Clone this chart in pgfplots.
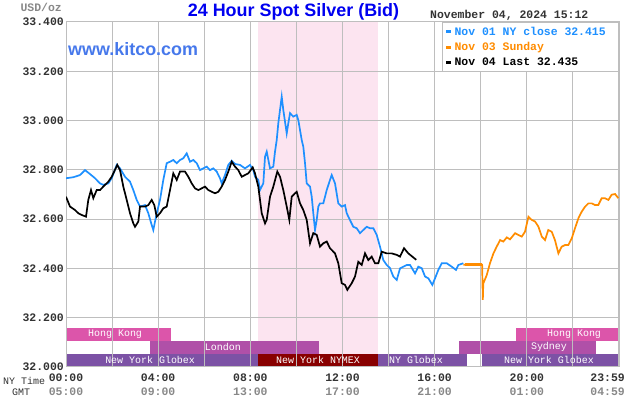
\documentclass[border=0pt]{standalone}
\usepackage{pgfplots}
\pgfplotsset{compat=1.18}
\usepackage{fontspec}
\setmainfont{Liberation Sans}
\newfontfamily\mono{Liberation Mono}
\definecolor{kblue}{RGB}{30,144,255}
\definecolor{korange}{RGB}{255,140,0}
\definecolor{kpink}{RGB}{252,228,240}
\definecolor{hk}{RGB}{220,85,170}
\definecolor{lon}{RGB}{176,80,168}
\definecolor{glx}{RGB}{124,82,165}
\definecolor{nymex}{RGB}{136,0,0}
\definecolor{gridc}{RGB}{190,190,190}
\definecolor{txt}{RGB}{51,51,51}
\definecolor{gmt}{RGB}{136,136,136}
\definecolor{titleblue}{RGB}{0,0,240}
\definecolor{kitco}{RGB}{70,120,235}
\newcommand\sesfont{\mono\fontsize{10}{12}\selectfont}
\newcommand\tickfont{\mono\bfseries\fontsize{11.5}{14.6}\selectfont}
\newcommand\sess[5]{\addplot[on layer=axis background, fill=#5, draw=none, forget plot] coordinates {(#1,#3) (#1,#4) (#2,#4) (#2,#3)} --cycle;}
\begin{document}
\begin{tikzpicture}
\begin{axis}[
  set layers,
  at={(66bp,33bp)}, anchor=south west,
  scale only axis, width=553bp, height=345bp,
  xmin=0, xmax=24, ymin=32, ymax=33.4,
  xtick={0,4,8,12,16,20},
  xticklabels={{00:00\\\textcolor{gmt}{05:00}},{04:00\\\textcolor{gmt}{09:00}},{08:00\\\textcolor{gmt}{13:00}},{12:00\\\textcolor{gmt}{17:00}},{16:00\\\textcolor{gmt}{21:00}},{20:00\\\textcolor{gmt}{01:00}}},
  extra x ticks={23.983},
  extra x tick labels={{23:59\\\textcolor{gmt}{04:59}}},
  extra x tick style={xticklabel style={xshift=-11bp}},
  minor xtick={2,6,10,14,18,22},
  ytick={32,32.2,32.4,32.6,32.8,33,33.2,33.4},
  yticklabels={32.000,32.200,32.400,32.600,32.800,33.000,33.200,33.400},
  grid=both,
  major grid style={gridc, line width=1bp},
  minor grid style={gridc, line width=1bp},
  axis line style={gridc, line width=1bp},
  major tick length=0pt, minor tick length=0pt,
  xticklabel style={font=\tickfont, text=txt, align=center, inner sep=2bp, yshift=-4.5bp},
  yticklabel style={font=\tickfont, text=txt, inner sep=2bp},
  legend style={at={(1,1)}, anchor=north east, draw=gridc, line width=1bp, fill=white,
    font=\tickfont, inner xsep=2bp, inner ysep=2.5bp, row sep=1.5bp,
    /tikz/every even column/.append style={column sep=0bp}},
  legend cell align=left,
  legend image code/.code={\draw[#1, line width=3bp] (0bp,0bp) -- (5bp,0bp);},
]
% NYMEX hours band
\addplot[on layer=axis background, fill=kpink, draw=none, forget plot] coordinates {(8.33,32) (8.33,33.4) (13.55,33.4) (13.55,32)} --cycle;
% trading sessions
\sess{0}{4.55}{32.106}{32.158}{hk}
\sess{19.55}{24}{32.106}{32.158}{hk}
\sess{3.65}{11.0}{32.053}{32.106}{lon}
\sess{17.05}{23.0}{32.053}{32.106}{lon}
\sess{0}{8.33}{32.0}{32.053}{glx}
\sess{8.33}{13.55}{32.0}{32.053}{nymex}
\sess{13.55}{17.4}{32.0}{32.053}{glx}
\sess{18.05}{24}{32.0}{32.053}{glx}

% Nov 01
\addplot[kblue, line width=1.7bp] coordinates {
(0,32.766)(0.317,32.770)(0.608,32.779)(0.825,32.799)(1.042,32.783)(1.259,32.766)(1.476,32.745)(1.619,32.739)(1.836,32.745)(1.984,32.766)
(2.201,32.820)(2.344,32.806)(2.561,32.772)(2.778,32.752)(2.921,32.718)(3.069,32.678)(3.212,32.651)(3.429,32.657)(3.572,32.624)(3.720,32.576)
(3.789,32.556)(3.937,32.624)(4.080,32.678)(4.223,32.759)(4.371,32.827)(4.514,32.833)(4.657,32.840)(4.805,32.827)(4.948,32.840)(5.091,32.847)
(5.239,32.867)(5.382,32.833)(5.525,32.840)(5.673,32.827)(5.816,32.799)(5.959,32.806)(6.107,32.813)(6.250,32.799)(6.393,32.806)(6.541,32.793)
(6.684,32.766)(6.758,32.745)(6.901,32.779)(7.044,32.820)(7.192,32.837)(7.335,32.824)(7.552,32.820)(7.769,32.806)(7.986,32.820)(8.129,32.799)
(8.203,32.772)(8.346,32.759)(8.420,32.718)(8.563,32.745)(8.637,32.853)(8.711,32.874)(8.854,32.806)(8.997,32.813)(9.071,32.874)(9.145,32.921)
(9.214,32.989)(9.288,33.043)(9.362,33.097)(9.431,33.043)(9.579,32.948)(9.648,32.989)(9.722,33.030)(9.865,33.016)(10.013,33.023)(10.082,33.002)
(10.230,32.921)(10.299,32.894)(10.373,32.827)(10.447,32.745)(10.590,32.732)(10.664,32.691)(10.733,32.624)(10.807,32.556)(10.881,32.597)(10.950,32.651)
(11.024,32.664)(11.167,32.664)(11.315,32.718)(11.458,32.759)(11.532,32.779)(11.675,32.745)(11.818,32.664)(11.966,32.651)(12.109,32.657)(12.183,32.624)
(12.326,32.596)(12.469,32.569)(12.617,32.563)(12.760,32.543)(12.903,32.556)(13.051,32.569)(13.194,32.563)(13.337,32.563)(13.485,32.536)(13.628,32.488)
(13.771,32.434)(13.919,32.414)(14.062,32.401)(14.205,32.367)(14.353,32.353)(14.496,32.400)(14.640,32.407)(14.787,32.414)(14.931,32.414)(15.148,32.380)
(15.291,32.407)(15.439,32.401)(15.582,32.367)(15.725,32.360)(15.898,32.333)(16.016,32.360)(16.159,32.394)(16.307,32.421)(16.524,32.421)(16.740,32.407)
(16.927,32.394)(17.027,32.414)(17.244,32.421)
};
\addlegendentry{\makebox[160bp][l]{\textcolor{kblue}{Nov 01 NY close 32.415}}}
% Nov 03
\addplot[korange, line width=1.7bp] coordinates {
(17.244,32.415)(18.06,32.415)(18.09,32.272)(18.11,32.339)(18.26,32.373)(18.40,32.421)(18.55,32.461)(18.69,32.488)(18.84,32.515)(18.98,32.509)
(19.13,32.526)(19.27,32.518)(19.49,32.543)(19.63,32.536)(19.78,32.529)(19.92,32.549)(20.07,32.610)(20.21,32.597)(20.36,32.590)(20.50,32.570)
(20.65,32.529)(20.79,32.515)(20.93,32.556)(21.08,32.549)(21.22,32.515)(21.37,32.461)(21.51,32.488)(21.66,32.495)(21.80,32.495)(21.95,32.522)
(22.09,32.563)(22.24,32.604)(22.38,32.630)(22.53,32.651)(22.67,32.664)(22.82,32.664)(22.96,32.657)(23.10,32.657)(23.25,32.685)(23.39,32.685)
(23.54,32.678)(23.68,32.699)(23.83,32.702)(23.97,32.685)
};
\addlegendentry{\textcolor{korange}{Nov 03 Sunday}}
\addplot[korange, line width=3.5bp, forget plot] coordinates {(17.3,32.415)(18.05,32.415)};
% Nov 04
\addplot[black, line width=1.7bp] coordinates {
(0,32.691)(0.174,32.651)(0.391,32.637)(0.534,32.624)(0.681,32.617)(0.868,32.610)(0.968,32.678)(1.085,32.718)(1.185,32.685)(1.332,32.718)
(1.476,32.718)(1.619,32.732)(1.836,32.752)(1.984,32.772)(2.227,32.820)(2.344,32.799)(2.487,32.732)(2.635,32.678)(2.778,32.624)(2.921,32.583)
(2.995,32.569)(3.138,32.590)(3.212,32.651)(3.429,32.651)(3.572,32.657)(3.720,32.678)(3.833,32.657)(3.937,32.610)(4.080,32.624)(4.223,32.644)
(4.371,32.651)(4.514,32.718)(4.657,32.786)(4.805,32.759)(4.948,32.793)(5.165,32.793)(5.308,32.772)(5.456,32.745)(5.599,32.725)(5.742,32.718)
(5.890,32.725)(6.033,32.732)(6.176,32.718)(6.324,32.711)(6.467,32.705)(6.610,32.711)(6.758,32.732)(6.901,32.759)(7.044,32.793)(7.192,32.833)
(7.335,32.813)(7.478,32.799)(7.626,32.772)(7.769,32.779)(7.912,32.786)(8.103,32.810)(8.203,32.786)(8.346,32.732)(8.420,32.678)(8.494,32.624)
(8.637,32.583)(8.711,32.597)(8.854,32.691)(8.997,32.732)(9.171,32.793)(9.288,32.772)(9.431,32.718)(9.579,32.651)(9.692,32.597)(9.796,32.691)
(9.939,32.705)(10.013,32.711)(10.156,32.664)(10.299,32.637)(10.447,32.597)(10.590,32.502)(10.733,32.543)(10.881,32.536)(11.024,32.488)(11.167,32.502)
(11.315,32.509)(11.458,32.482)(11.675,32.461)(11.818,32.421)(11.966,32.340)(12.109,32.333)(12.209,32.313)(12.400,32.340)(12.543,32.367)(12.686,32.427)
(12.834,32.414)(12.977,32.461)(13.121,32.434)(13.268,32.448)(13.411,32.421)(13.555,32.421)(13.702,32.468)(13.919,32.461)(14.136,32.461)(14.353,32.455)
(14.496,32.448)(14.670,32.482)(14.857,32.461)(15.2,32.435)
};
\addlegendentry{Nov 04 Last 32.435}

% session labels
\node[font=\sesfont, text=white] at (axis cs:2.13,32.132) {Hong Kong};
\node[font=\sesfont, text=white] at (axis cs:22.05,32.132) {Hong Kong};
\node[font=\sesfont, text=white] at (axis cs:6.81,32.080) {London};
\node[font=\sesfont, text=white] at (axis cs:20.96,32.080) {Sydney};
\node[font=\sesfont, text=white] at (axis cs:3.65,32.027) {New York Globex};
\node[font=\sesfont, text=white] at (axis cs:10.94,32.027) {New York NYMEX};
\node[font=\sesfont, text=white] at (axis cs:15.19,32.027) {NY Globex};
\node[font=\sesfont, text=white] at (axis cs:20.96,32.027) {New York Globex};
\end{axis}
% texts around the chart
\node[anchor=base, inner sep=0, font=\bfseries\fontsize{18}{20}\selectfont, text=titleblue] at (293.5bp,383bp) {24 Hour Spot Silver (Bid)};
\node[anchor=base west, inner sep=0, font=\bfseries\fontsize{18}{20}\selectfont, text=kitco] at (68bp,344bp) {www.kitco.com};
\node[anchor=base east, inner sep=0, font=\tickfont, text=gmt] at (62bp,388bp) {USD/oz};
\node[anchor=base west, inner sep=0, font=\tickfont, text=txt] at (430bp,381.7bp) {November 04, 2024 15:12};
\node[anchor=base west, inner sep=0, font=\mono\fontsize{10}{12}\selectfont, text=txt] at (3bp,16bp) {NY Time};
\node[anchor=base west, inner sep=0, font=\mono\fontsize{10}{12}\selectfont, text=txt] at (12bp,4.7bp) {GMT};
\pgfresetboundingbox
\useasboundingbox (0,0) rectangle (630bp,400bp);
\end{tikzpicture}
\end{document}
